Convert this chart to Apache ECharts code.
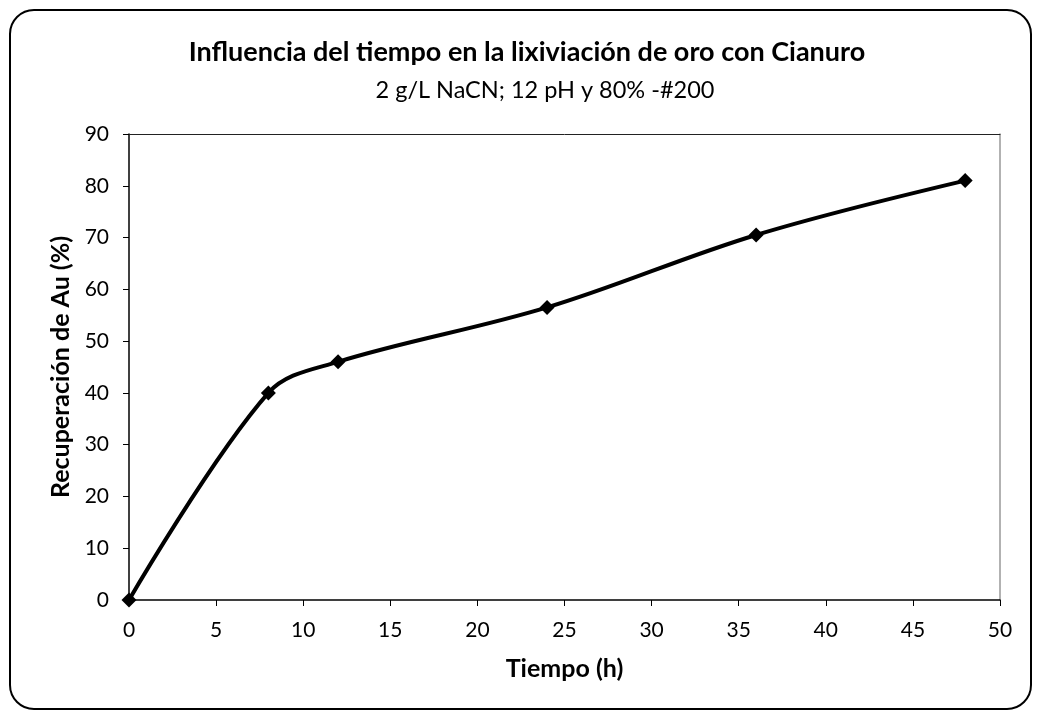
<!DOCTYPE html>
<html>
<head>
<meta charset="utf-8">
<script src="https://cdn.jsdelivr.net/npm/echarts@6/dist/echarts.min.js"></script>
<style>
html, body { margin: 0; padding: 0; background: #fff; }
#chart { width: 1039px; height: 711px; }
</style>
</head>
<body>
<div id="chart"></div>
<script>
// datos
const tiempo = [0, 8, 12, 24, 36, 48];
const recuperacion = [0, 40, 46, 56.5, 70.5, 81];
const xTicks = [0, 5, 10, 15, 20, 25, 30, 35, 40, 45, 50];
const yTicks = [0, 10, 20, 30, 40, 50, 60, 70, 80, 90];

const font = 'Lato, "Open Sans", sans-serif';
const chart = echarts.init(document.getElementById('chart'));

const option = {
	backgroundColor: '#fff',
	textStyle: { fontFamily: font },
	title: [
		{
			text: 'Influencia del tiempo en la lixiviación de oro con Cianuro',
			left: 522,
			textAlign: 'center',
			top: 34,
			textStyle: { fontFamily: font, fontSize: 27, fontWeight: 'bold', color: '#000' }
		},
		{
			// subtítulo
			text: '2 g/L NaCN; 12 pH y 80% -#200',
			left: 540,
			textAlign: 'center',
			top: 73,
			textStyle: { fontFamily: font, fontSize: 23.5, fontWeight: 'normal', color: '#000' }
		}
	],
	graphic: [
		{
			type: 'rect',
			shape: { x: 10, y: 10, width: 1021, height: 699, r: 24 },
			style: { fill: 'none', stroke: '#000', lineWidth: 2 },
			silent: true
		}
	],
	grid: { left: 129, right: 39, top: 134, bottom: 111 },
	xAxis: [
		{
			type: 'value',
			min: xTicks[0],
			max: xTicks[xTicks.length - 1],
			interval: 5,
			name: 'Tiempo (h)',
			nameLocation: 'middle',
			nameGap: 56,
			nameTextStyle: { fontFamily: font, fontSize: 25, fontWeight: 'bold', color: '#000' },
			axisLine: { lineStyle: { color: '#000', width: 1.5 } },
			axisTick: { length: 6, lineStyle: { color: '#000' } },
			axisLabel: { fontSize: 21, color: '#000', margin: 20 },
			splitLine: { show: false }
		},
		{
			type: 'value',
			position: 'top',
			min: 0,
			max: 50,
			axisLine: { show: true, onZero: false, lineStyle: { color: '#222', width: 1 } },
			axisTick: { show: false },
			axisLabel: { show: false },
			splitLine: { show: false }
		}
	],
	yAxis: [
		{
			type: 'value',
			min: yTicks[0],
			max: yTicks[yTicks.length - 1],
			interval: 10,
			name: 'Recuperación de Au (%)',
			nameLocation: 'middle',
			nameGap: 52,
			nameTextStyle: { fontFamily: font, fontSize: 25, fontWeight: 'bold', color: '#000' },
			axisLine: { show: true, lineStyle: { color: '#000', width: 1.5 } },
			axisTick: { show: true, length: 6, lineStyle: { color: '#000' } },
			axisLabel: { fontSize: 21, color: '#000', margin: 20 },
			splitLine: { show: false }
		},
		{
			type: 'value',
			position: 'right',
			min: 0,
			max: 90,
			axisLine: { show: true, onZero: false, lineStyle: { color: '#999', width: 1.5 } },
			axisTick: { show: false },
			axisLabel: { show: false },
			splitLine: { show: false }
		}
	],
	series: [
		{
			type: 'line',
			data: tiempo.map((t, i) => [t, recuperacion[i]]),
			smooth: 0.35,
			symbol: 'diamond',
			symbolSize: 15,
			lineStyle: { color: '#000', width: 4 },
			itemStyle: { color: '#000' },
			animation: false
		}
	]
};

chart.setOption(option);
</script>
</body>
</html>
